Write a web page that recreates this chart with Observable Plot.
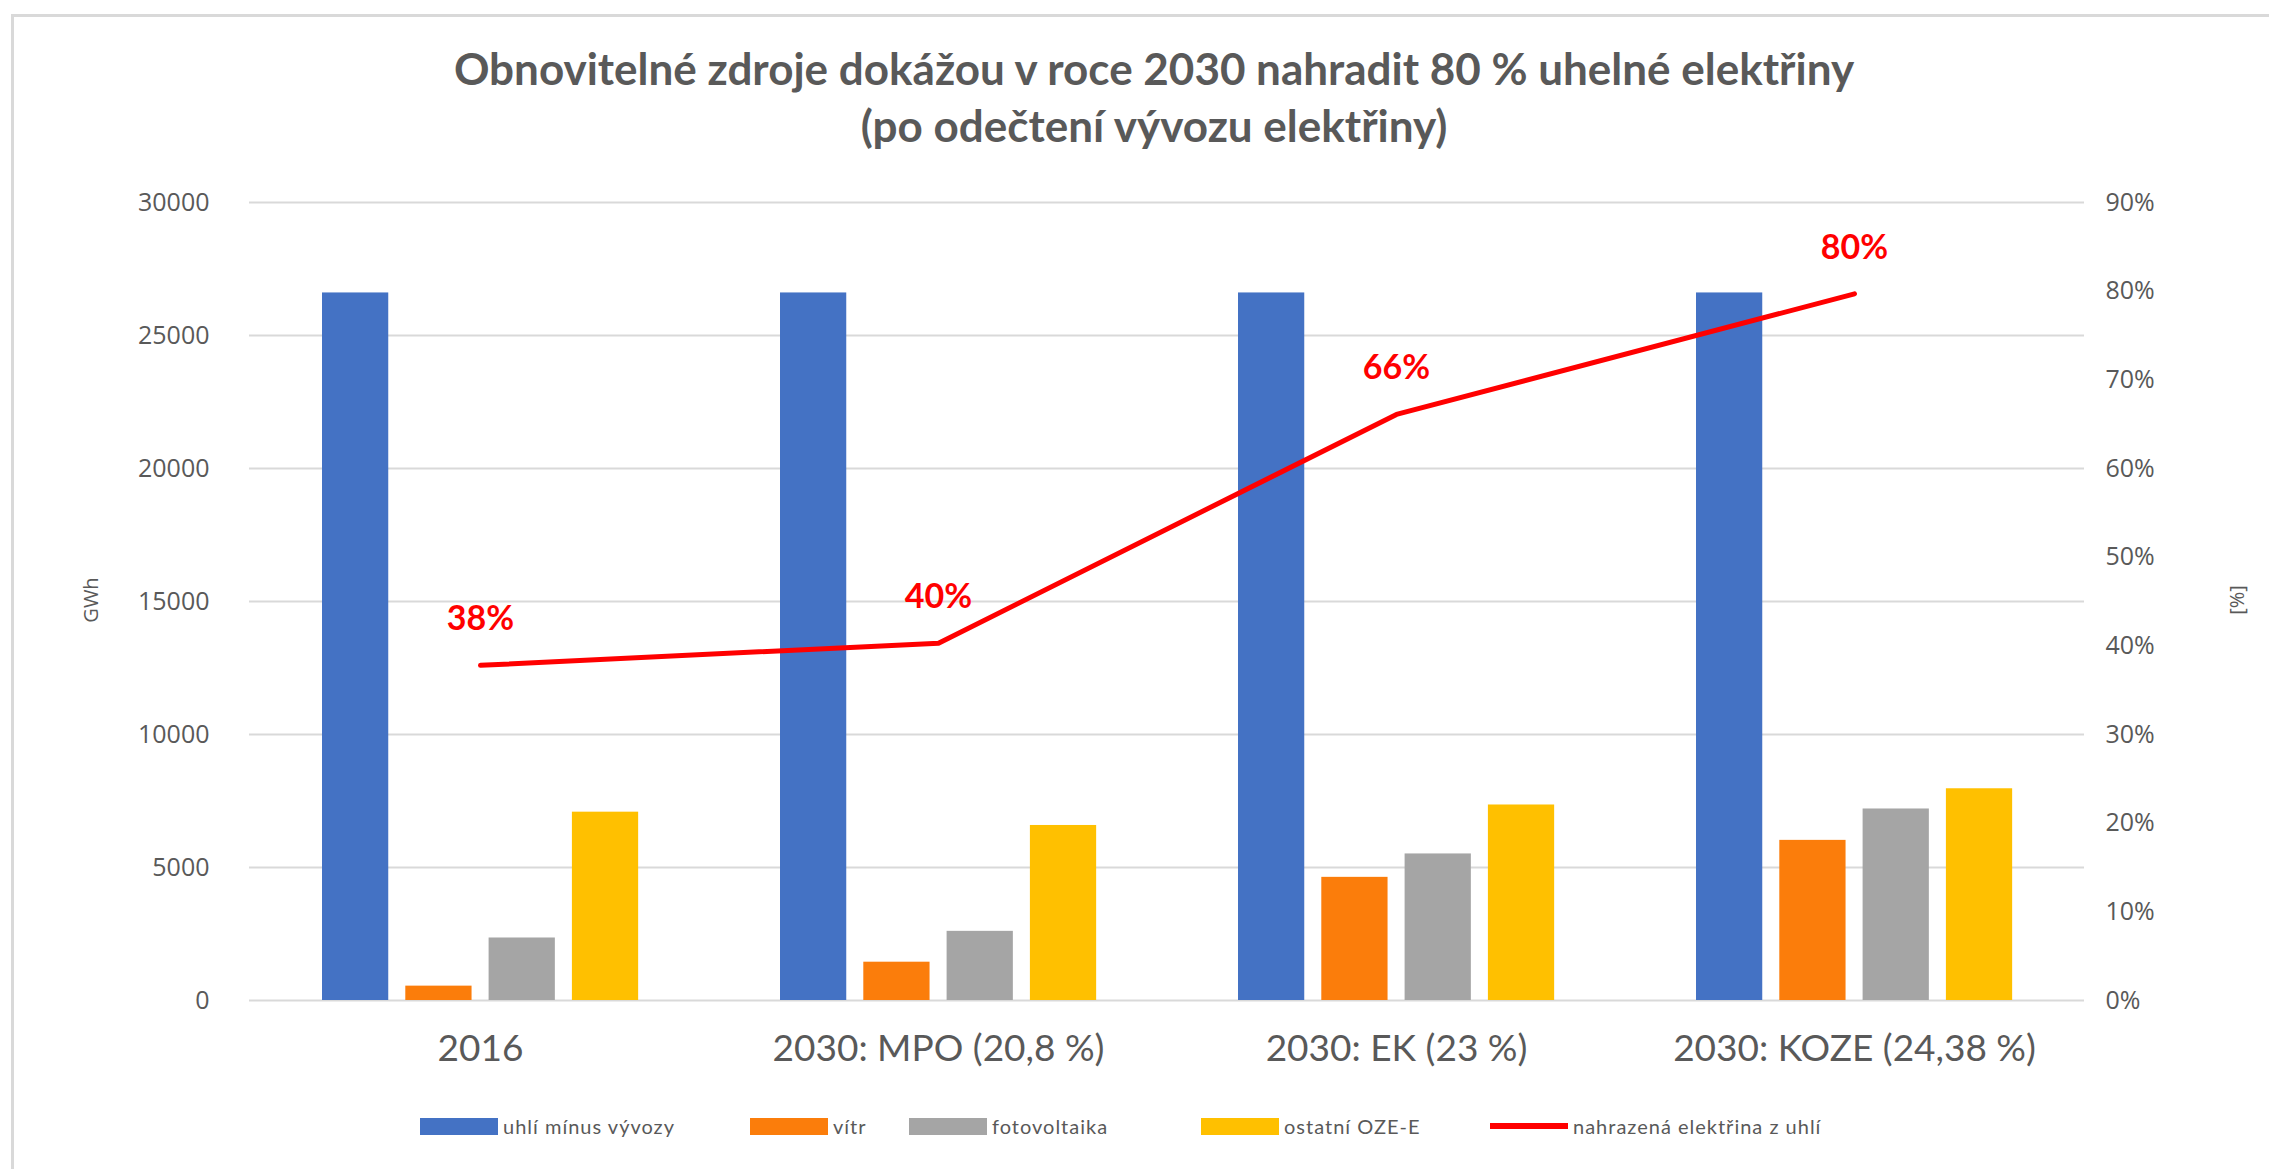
<!DOCTYPE html>
<html>
<head>
<meta charset="utf-8">
<script src="https://cdn.jsdelivr.net/npm/d3@7"></script>
<script src="https://cdn.jsdelivr.net/npm/@observablehq/plot@0.6"></script>
<style>
  html, body { margin: 0; padding: 0; background: #fff; }
  #wrap { position: relative; width: 2269px; height: 1169px; overflow: hidden; background: #fff; }
  #frame { position: absolute; left: 11px; top: 14px; width: 2300px; height: 1200px;
           border-left: 3px solid #d9d9d9; border-top: 3px solid #d9d9d9; box-sizing: border-box; }
  #title { position: absolute; left: 0; top: 40px; width: 2308px; text-align: center;
           font-family: Lato, sans-serif; font-weight: bold; font-size: 44px; line-height: 57px; color: #595959; }
  #chart { position: absolute; left: 0; top: 0; }
  .axt { position: absolute; font-family: "Open Sans", sans-serif; font-size: 20px; color: #595959;
         transform: translate(-50%, -50%) rotate(-90deg); white-space: nowrap; }
  .li { position: absolute; top: 1112px; display: flex; align-items: center; gap: 5px; white-space: nowrap;
        font-family: Lato, sans-serif; font-size: 20px; letter-spacing: 1px; color: #595959; height: 28px; }
  .sw { width: 78px; height: 17px; }
  .ln { width: 78px; height: 6px; background: #ff0000; }
</style>
</head>
<body>
<div id="wrap">
  <div id="frame"></div>
  <div id="title">Obnovitelné zdroje dokážou v roce 2030 nahradit 80 % uhelné elektřiny<br>(po odečtení vývozu elektřiny)</div>
  <div id="chart"></div>
  <div class="axt" style="left:90px; top:600px;">GWh</div>
  <div class="axt" style="left:2236px; top:600px;">[%]</div>
</div>
<script>
// ---- data ----
const categories = ["2016", "2030: MPO (20,8 %)", "2030: EK (23 %)", "2030: KOZE (24,38 %)"];
const seriesNames = ["uhlí mínus vývozy", "vítr", "fotovoltaika", "ostatní OZE-E"];
const seriesColors = ["#4472C4", "#FB7D0B", "#A5A5A5", "#FFC000"];
const coalMinusExport = [26600, 26600, 26600, 26600];
const wind = [540, 1440, 4630, 6020];
const solar = [2350, 2600, 5510, 7200];
const otherRes = [7080, 6580, 7350, 7960];
const lineName = "nahrazená elektřina z uhlí";
const replacedPct = [37.8, 40.3, 66.1, 79.7];
const leftTicks = [0, 5000, 10000, 15000, 20000, 25000, 30000];
const rightTicksPct = [0, 10, 20, 30, 40, 50, 60, 70, 80, 90];

const seriesValues = [coalMinusExport, wind, solar, otherRes];
const yMax = 30000, pctMax = 90;
const toGWh = p => p / pctMax * yMax;

const width = 2269, height = 1100;
const marginLeft = 249, marginRight = 185, marginTop = 202, marginBottom = 100;
const bw = (width - marginLeft - marginRight) / categories.length;
const groupStart = 71, barStep = 83.3, barW = 67;

const marks = [
  Plot.gridY(leftTicks, {stroke: "#d9d9d9", strokeOpacity: 1, strokeWidth: 2})
];
seriesValues.forEach((vals, i) => {
  const rows = categories.map((c, j) => ({cat: c, value: vals[j], series: seriesNames[i]}));
  const left = groupStart + i * barStep;
  marks.push(Plot.barY(rows, {
    x: "cat", y: "value", fill: seriesColors[i],
    insetLeft: left, insetRight: bw - left - barW
  }));
});
const lineRows = categories.map((c, j) => ({cat: c, pct: replacedPct[j]}));
marks.push(Plot.line(lineRows, {x: "cat", y: d => toGWh(d.pct), stroke: "#ff0000", strokeWidth: 5}));
marks.push(Plot.text(lineRows, {x: "cat", y: d => toGWh(d.pct), text: d => Math.round(d.pct) + "%",
  dy: -46, fill: "#ff0000", fontWeight: "bold", fontSize: 34, fontFamily: "Lato, sans-serif"}));
marks.push(Plot.axisY(leftTicks, {anchor: "left", tickSize: 0, tickPadding: 40, fontSize: 25,
  fontFamily: "Open Sans, sans-serif", label: null, tickFormat: d => String(d)}));
marks.push(Plot.axisY(rightTicksPct.map(toGWh), {anchor: "right", tickSize: 0, tickPadding: 21, fontSize: 25,
  fontFamily: "Open Sans, sans-serif", label: null, tickFormat: d => Math.round(d / yMax * pctMax) + "%"}));
marks.push(Plot.axisX({tickSize: 0, tickPadding: 34, fontSize: 37, fontFamily: "Lato, sans-serif", label: null}));

const plot = Plot.plot({
  width, height, marginLeft, marginRight, marginTop, marginBottom,
  style: {color: "#595959", background: "transparent", overflow: "visible"},
  x: {type: "band", domain: categories, padding: 0, axis: null},
  y: {domain: [0, yMax], nice: false, axis: null},
  marks
});
document.getElementById("chart").appendChild(plot);

// legend (item left edges follow the reference)
const legendLeft = [420, 750, 909, 1201, 1490];
const wrap = document.getElementById("wrap");
const items = seriesNames.map((n, i) => ({name: n, color: seriesColors[i], line: false}))
  .concat([{name: lineName, color: "#ff0000", line: true}]);
items.forEach((d, i) => {
  const it = document.createElement("div"); it.className = "li"; it.style.left = legendLeft[i] + "px";
  const sw = document.createElement("div"); sw.className = d.line ? "ln" : "sw"; sw.style.background = d.color;
  const t = document.createElement("span"); t.textContent = d.name;
  it.appendChild(sw); it.appendChild(t); wrap.appendChild(it);
});
</script>
</body>
</html>
